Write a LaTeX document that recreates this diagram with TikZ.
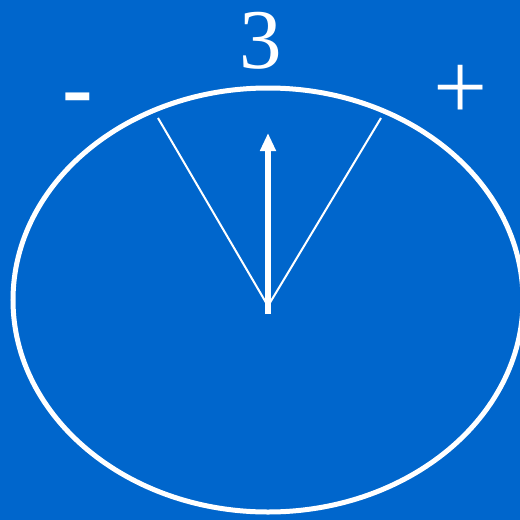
\documentclass[tikz,border=0pt]{standalone}
\usepackage{fontspec}
\setmainfont{Liberation Serif}
\usetikzlibrary{arrows.meta}
\definecolor{dialblue}{RGB}{0,102,204}

\begin{document}
\begin{tikzpicture}[x=1pt, y=-1pt, >={Triangle[width=15pt,length=18pt]},
  rim/.style={draw=white, line width=5pt},
  ray/.style={draw=white, line width=2pt},
  sign/.style={text=white, inner sep=0pt, font=\fontsize{85}{85}\selectfont}]
\fill[dialblue] (0,0) rectangle (520,520);
\useasboundingbox (0,0) rectangle (520,520);
\draw[rim] (268,300) ellipse [x radius=255, y radius=212];
\coordinate (c) at (268,306);
\coordinate (l) at (158,118);
\coordinate (r) at (381,118);
\coordinate (base) at (268,314);
\coordinate (tip) at (268,133);
\draw[ray] (c) -- (l);
\draw[ray] (c) -- (r);
\draw[->, white, line width=6pt] (base) -- (tip);
\node[sign, anchor=base] (three) at (261,68) {3};
\node[sign, font=\fontsize{92}{92}\selectfont\bfseries] (minus) at (78,106) {-};
\node[sign, font=\fontsize{96}{96}\selectfont] (plus) at (461,92) {+};
\end{tikzpicture}
\end{document}
